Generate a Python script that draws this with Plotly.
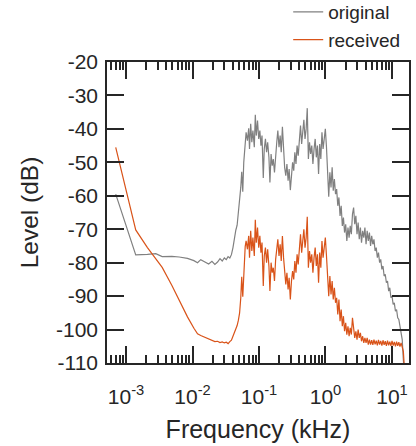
import plotly.graph_objects as go

# ---- data ----
freq_hz = [
    0.7, 1.4, 2.1, 2.8, 3.5, 4.9, 6.3, 8.4, 10.5, 11.9,
    13.3, 15.4, 17.5, 19.6, 21.7, 23.8, 25.9, 28.0, 30.1, 32.2,
    34.3, 36.4, 38.5, 40.6, 42.7, 44.8, 46.9, 49.0, 51.1, 53.2,
    55, 57, 59, 62, 64, 67, 70, 72, 75, 78,
    81, 85, 88, 91, 95, 99, 103, 107, 111, 116,
    120, 125, 130, 135, 141, 146, 152, 158, 164, 171,
    178, 185, 192, 200, 208, 216, 225, 234, 243, 253,
    263, 274, 284, 296, 308, 320, 333, 346, 360, 374,
    389, 405, 421, 438, 455, 473, 492, 512, 532, 553,
    575, 598, 622, 647, 673, 700, 728, 757, 787, 818,
    851, 885, 920, 957, 995, 1035, 1076, 1119, 1164, 1211,
    1259, 1309, 1361, 1416, 1472, 1531, 1592, 1656, 1722, 1791,
    1862, 1936, 2014, 2094, 2178, 2265, 2355, 2449, 2547, 2649,
    2754, 2864, 2979, 3097, 3221, 3350, 3483, 3622, 3767, 3917,
    4074, 4236, 4406, 4581, 4764, 4955, 5152, 5358, 5572, 5794,
    6026, 6266, 6516, 6776, 7047, 7328, 7621, 7925, 8241, 8570,
    8913, 9268, 9638, 10023, 10423, 10839, 11272, 11722, 12190, 12677,
    13183, 13709, 14256, 14825, 15417, 16032, 16672, 17338,
]

original_db = [
    -59.5, -77.7, -77.5, -77.3, -78.2, -78.1, -78.3, -78.7, -79.4, -80.0,
    -79.1, -79.7, -80.4, -79.6, -80.5, -79.8, -78.8, -79.5, -78.6, -79.1,
    -78.2, -78.6, -77.6, -75.5, -72.0, -70.3, -68.8, -65.5, -62.0, -57.5,
    -52.8, -58.8, -50.0, -44.8, -41.0, -43.5, -39.8, -46.0, -38.5, -44.0,
    -40.5, -45.5, -35.8, -42.0, -37.5, -43.0, -40.5, -45.0, -42.0, -54.7,
    -46.0, -43.0, -47.0, -44.0, -48.5, -56.0, -47.5, -51.0, -49.0, -53.0,
    -46.5, -44.0, -40.5, -45.5, -42.0, -47.0, -39.4, -46.0, -51.5, -54.0,
    -50.5, -55.5, -52.0, -58.3, -53.0, -50.0, -52.5, -47.0, -50.5, -45.0,
    -48.0, -42.5, -39.0, -44.5, -41.0, -37.3, -43.0, -40.0, -33.8, -49.0,
    -44.0, -47.5, -45.0, -50.5, -46.0, -43.0, -48.5, -45.0, -53.5, -44.5,
    -49.0, -41.0, -46.0, -42.5, -40.0, -45.5, -52.0, -60.3, -53.0, -57.5,
    -51.5, -58.5, -55.0, -59.5, -58.0, -63.0, -60.5, -66.0, -63.0, -69.0,
    -66.5, -71.0, -68.5, -73.5, -69.5, -72.5, -69.0, -71.5, -65.5, -63.5,
    -68.5, -66.0, -71.5, -68.0, -73.0, -69.5, -74.0, -70.5, -72.5, -69.5,
    -74.5, -70.5, -73.5, -71.0, -75.0, -72.0, -74.5, -73.0, -76.5, -75.5,
    -78.5, -77.0, -80.0, -79.0, -82.0, -81.0, -84.0, -83.5, -86.0, -85.5,
    -88.5, -87.5, -90.5, -90.0, -92.5, -92.0, -94.5, -94.0, -96.5, -97.0,
    -99.0, -100.5, -103.0, -109.0, -116.0, -119.0, -120.0, -121.0,
]

received_db = [
    -45.5, -70.2, -75.5, -78.9, -81.4, -86.8, -91.2, -96.2, -99.6, -101.3,
    -101.8, -102.4, -102.9, -103.2, -103.6, -103.5, -103.9, -103.7, -104.0, -103.8,
    -104.2, -103.6, -103.2, -102.0, -101.0, -99.9, -98.8, -97.2, -95.0, -90.5,
    -84.2, -90.2, -82.0, -75.2, -73.5, -76.0, -72.0, -78.5, -70.5, -76.5,
    -72.5, -78.0, -67.2, -74.0, -69.5, -75.5, -72.0, -77.0, -74.0, -87.0,
    -78.0, -75.5, -80.0, -76.0, -81.0, -88.5, -80.0, -83.0, -81.5, -85.5,
    -79.0, -76.5, -73.0, -78.0, -74.5, -79.5, -72.0, -78.5, -84.0, -86.5,
    -83.0, -88.0, -84.5, -91.0, -85.5, -82.5, -85.0, -79.5, -83.0, -77.5,
    -80.5, -75.0, -71.5, -77.0, -73.5, -70.0, -75.5, -72.5, -66.3, -81.5,
    -76.5, -80.0, -77.5, -83.0, -78.5, -75.5, -81.0, -77.5, -86.0, -77.0,
    -81.5, -73.5, -78.5, -75.0, -72.5, -78.0, -84.0, -90.0, -84.0, -89.5,
    -85.5, -91.0, -87.5, -92.0, -90.5, -95.5, -91.0, -97.5, -94.0, -99.0,
    -96.0, -100.5, -98.0, -101.5, -99.0, -102.0, -99.5, -101.5, -96.5, -101.0,
    -102.5, -100.5, -103.0, -100.0, -102.5, -101.0, -103.5, -102.0, -104.0, -102.5,
    -104.0, -102.5, -104.5, -103.0, -104.5, -103.2, -104.6, -103.0, -104.4, -103.3,
    -104.7, -103.1, -104.5, -103.4, -104.8, -103.2, -104.6, -103.5, -104.9, -103.3,
    -104.7, -103.6, -104.9, -103.4, -104.8, -103.7, -105.0, -103.6, -104.9, -103.8,
    -105.1, -104.0, -105.2, -106.5, -112.0, -118.0, -121.0, -122.0,
]

series_names = ["original", "received"]
series_colors = ["#808080", "#D95319"]

x_tick_vals = [1e-3, 1e-2, 1e-1, 1, 10]
x_tick_text = ["10<sup>-3</sup>", "10<sup>-2</sup>", "10<sup>-1</sup>",
               "10<sup>0</sup>", "10<sup>1</sup>"]
x_minor_vals = [6e-4, 7e-4, 8e-4, 9e-4,
                2e-3, 3e-3, 4e-3, 5e-3, 6e-3, 7e-3, 8e-3, 9e-3,
                2e-2, 3e-2, 4e-2, 5e-2, 6e-2, 7e-2, 8e-2, 9e-2,
                0.2, 0.3, 0.4, 0.5, 0.6, 0.7, 0.8, 0.9,
                2, 3, 4, 5, 6, 7, 8, 9]
y_tick_vals = [-20, -30, -40, -50, -60, -70, -80, -90, -100, -110]
y_tick_text = ["-20", "-30", "-40", "-50", "-60", "-70", "-80", "-90", "-100", "-110"]

assert len(freq_hz) == len(original_db) == len(received_db)

freq_khz = [f / 1000.0 for f in freq_hz]

AX = "#262626"
FONT = "Liberation Sans, Arial, Helvetica, sans-serif"

fig = go.Figure()
for name, color, levels in zip(series_names, series_colors, [original_db, received_db]):
    fig.add_trace(go.Scatter(
        x=freq_khz, y=levels, mode="lines", name=name,
        line=dict(color=color, width=1.2),
    ))

fig.update_layout(
    width=416, height=446,
    margin=dict(l=107, r=7, t=62, b=83, autoexpand=False),
    plot_bgcolor="white", paper_bgcolor="white",
    font=dict(family=FONT, color=AX),
    showlegend=True,
    legend=dict(
        x=0.6, y=1.229, xanchor="left", yanchor="top",
        font=dict(size=19, color=AX), bgcolor="rgba(0,0,0,0)",
    ),
    xaxis=dict(
        type="log", range=[-3.286, 1.256], automargin=False,
        tickmode="array", tickvals=x_tick_vals, ticktext=x_tick_text,
        ticks="inside", ticklen=17, tickwidth=1.5, tickcolor=AX,
        minor=dict(tickmode="array", tickvals=x_minor_vals, ticks="inside",
                   ticklen=8, tickwidth=1.5, tickcolor=AX, showgrid=False),
        showline=True, linecolor=AX, linewidth=1.5, mirror="ticks",
        showgrid=False, zeroline=False,
        tickfont=dict(size=21, color=AX), ticklabelstandoff=14,
        title=dict(text="Frequency (kHz)", font=dict(size=25, color=AX), standoff=14),
    ),
    yaxis=dict(
        range=[-110, -20], automargin=False,
        tickmode="array", tickvals=y_tick_vals, ticktext=y_tick_text,
        ticks="inside", ticklen=17, tickwidth=1.5, tickcolor=AX,
        showline=True, linecolor=AX, linewidth=1.5, mirror="ticks",
        showgrid=False, zeroline=False,
        tickfont=dict(size=21, color=AX), ticklabelstandoff=3,
        title=dict(text="Level (dB)", font=dict(size=24.5, color=AX), standoff=10),
    ),
)

fig.write_html("out.html", config={"displayModeBar": False},
               post_script="document.body.style.margin='0px';")
